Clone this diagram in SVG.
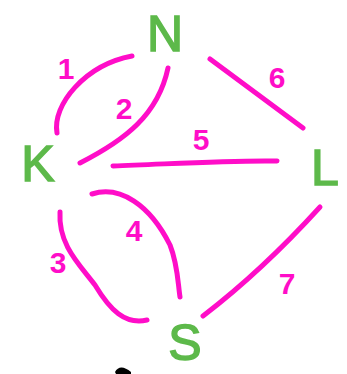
<svg xmlns="http://www.w3.org/2000/svg" width="347" height="374" viewBox="0 0 347 374">
<style>
.node{font-family:"Liberation Sans",Arial,sans-serif;font-size:50px;fill:#5db94a;stroke:#5db94a;stroke-width:1.5;text-anchor:middle;dominant-baseline:central}
.edge{fill:none;stroke:#ff0dc8;stroke-width:5;stroke-linecap:round;stroke-linejoin:round}
.lbl{font-family:"Liberation Sans",Arial,sans-serif;font-size:30px;font-weight:bold;fill:#ff0dc8;text-anchor:middle;dominant-baseline:central}
</style>
<rect width="347" height="374" fill="#fff"/>
<g id="connectors">
<path class="edge" d="M57,133 C52,105 85,65 132,56"/>
<path class="edge" d="M168,68 C158,115 125,140 80,163"/>
<path class="edge" d="M113,166 C170,164 230,160 277,161"/>
<path class="edge" d="M210,59 L303,128"/>
<path class="edge" d="M60,212 C58,245 80,265 95,285 C110,310 125,325 147,320"/>
<path class="edge" d="M92,194 C120,185 150,205 170,245 C178,265 178,285 180,297"/>
<path class="edge" d="M320,207 C290,240 250,280 203,316"/>
<g id="edge-labels">
<text class="lbl" x="66" y="68">1</text>
<text class="lbl" x="124" y="108">2</text>
<text class="lbl" x="58" y="262">3</text>
<text class="lbl" x="134" y="230">4</text>
<text class="lbl" x="201" y="139">5</text>
<text class="lbl" x="277" y="77">6</text>
<text class="lbl" x="287" y="283">7</text>
</g>
</g>
<g id="node-N"><text class="node" x="165" y="34">N</text></g>
<g id="node-K"><text class="node" x="38" y="164">K</text></g>
<g id="node-L"><text class="node" x="325" y="168">L</text></g>
<g id="node-S"><text class="node" x="185" y="343">S</text></g>
<path d="M115,372 C118,366 124,366 131,372 L131,374 L116,374 Z" fill="#000"/>
</svg>
